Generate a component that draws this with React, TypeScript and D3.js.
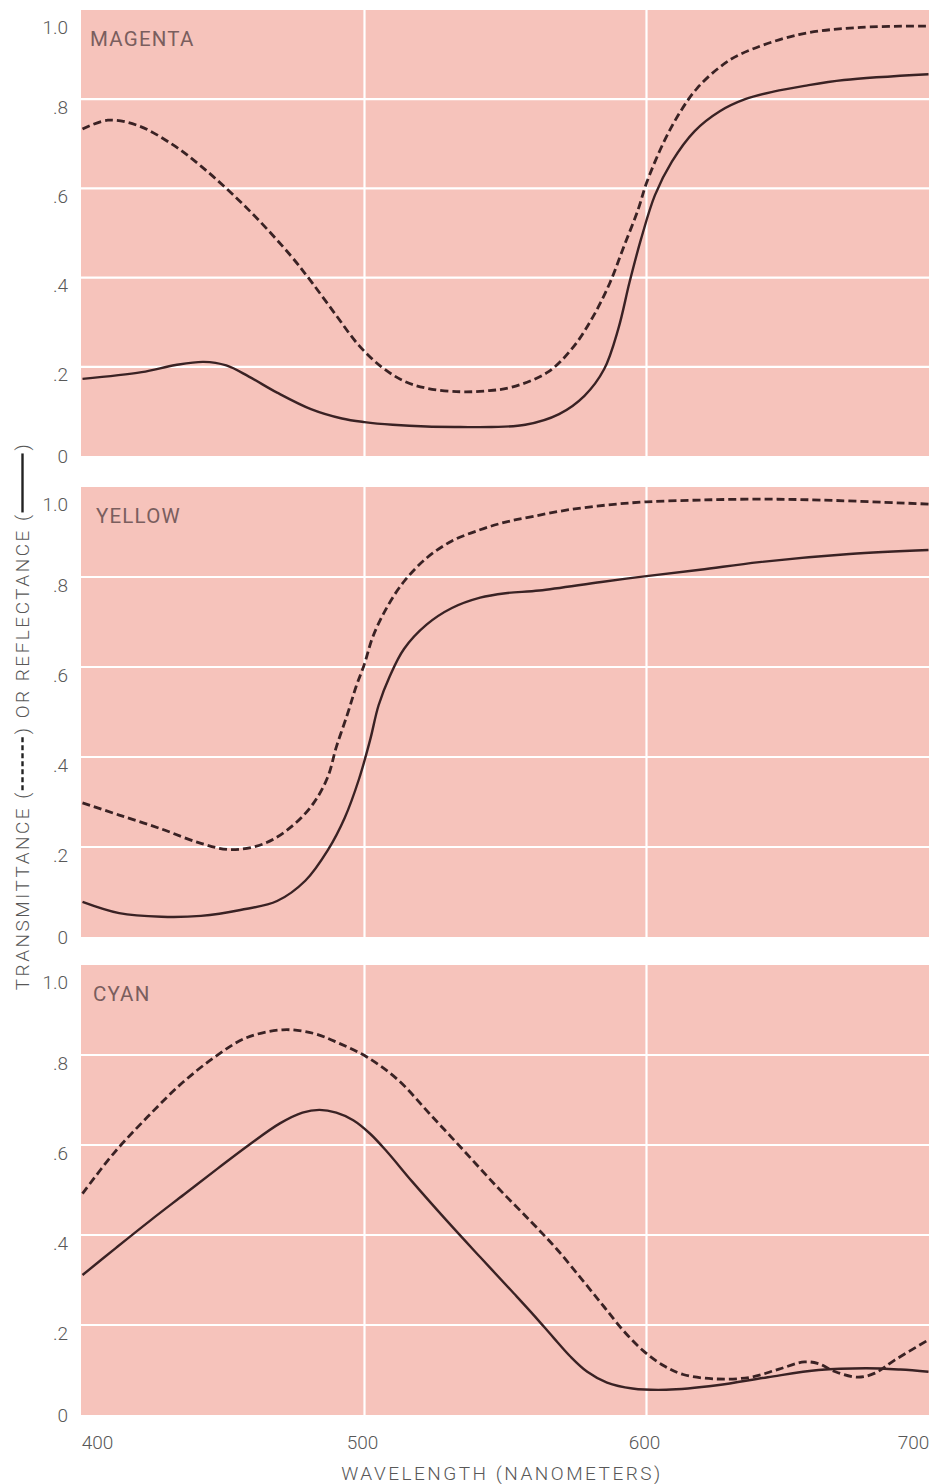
import React, { useEffect, useRef } from 'react';
import * as d3 from 'd3';

type Pt = [number, number];

const wavelengthTicks = [400, 500, 600, 700];
const valueTicks = [0, 0.2, 0.4, 0.6, 0.8, 1.0];
const valueTickLabels = ['0', '.2', '.4', '.6', '.8', '1.0'];
const panelNames = ['MAGENTA', 'YELLOW', 'CYAN'];
const xTitle = 'WAVELENGTH (NANOMETERS)';

const magentaTransmittance: Pt[] = [
  [400, 0.733], [409, 0.753], [420, 0.74], [432, 0.698], [442, 0.65], [452, 0.594],
  [462, 0.532], [474, 0.448], [481, 0.392], [490, 0.315], [498, 0.248], [506, 0.2],
  [514, 0.168], [522, 0.152], [534, 0.144], [543, 0.146], [552, 0.154], [565, 0.188],
  [574, 0.244], [581, 0.312], [587, 0.388], [592, 0.47], [597, 0.552], [600, 0.612],
  [606, 0.702], [612, 0.772], [618, 0.825], [626, 0.872], [633, 0.9], [654, 0.945],
  [676, 0.961], [700, 0.964],
];
const magentaReflectance: Pt[] = [
  [400, 0.173], [421, 0.188], [433, 0.204], [443, 0.211], [451, 0.203], [459, 0.178],
  [469, 0.142], [481, 0.105], [492, 0.084], [500, 0.076], [510, 0.07], [522, 0.066],
  [534, 0.065], [545, 0.065], [557, 0.07], [569, 0.094], [578, 0.135], [585, 0.195],
  [590, 0.285], [594, 0.39], [598, 0.485], [603, 0.585], [609, 0.66], [617, 0.728],
  [626, 0.773], [635, 0.8], [645, 0.817], [656, 0.83], [670, 0.843], [700, 0.856],
];

const yellowTransmittance: Pt[] = [
  [400, 0.298], [413, 0.271], [428, 0.24], [442, 0.208], [453, 0.194], [465, 0.209],
  [475, 0.25], [482, 0.298], [487, 0.356], [490, 0.422], [494, 0.496], [497, 0.556],
  [500, 0.607], [503, 0.668], [508, 0.733], [514, 0.79], [522, 0.842], [531, 0.88],
  [541, 0.905], [550, 0.922], [560, 0.935], [572, 0.949], [586, 0.96], [600, 0.967],
  [619, 0.971], [640, 0.973], [662, 0.971], [700, 0.962],
];
const yellowReflectance: Pt[] = [
  [400, 0.078], [413, 0.053], [428, 0.045], [442, 0.047], [456, 0.06], [469, 0.08],
  [479, 0.125], [487, 0.193], [493, 0.265], [498, 0.35], [502, 0.438], [505, 0.515],
  [509, 0.58], [514, 0.64], [522, 0.694], [531, 0.731], [541, 0.754], [550, 0.764],
  [562, 0.77], [584, 0.789], [600, 0.802], [619, 0.816], [640, 0.833], [672, 0.851],
  [700, 0.86],
];

const cyanTransmittance: Pt[] = [
  [400, 0.492], [411, 0.581], [423, 0.662], [435, 0.736], [447, 0.796], [458, 0.838],
  [471, 0.856], [482, 0.848], [491, 0.826], [501, 0.795], [512, 0.744], [523, 0.67],
  [535, 0.589], [547, 0.507], [559, 0.43], [568, 0.37], [577, 0.302], [585, 0.24],
  [592, 0.186], [599, 0.142], [606, 0.11], [613, 0.09], [625, 0.08], [637, 0.084],
  [647, 0.102], [656, 0.118], [661, 0.114], [667, 0.096], [675, 0.084], [681, 0.093],
  [688, 0.122], [700, 0.167],
];
const cyanReflectance: Pt[] = [
  [400, 0.311], [412, 0.372], [424, 0.432], [436, 0.49], [448, 0.548], [459, 0.6],
  [470, 0.648], [478, 0.672], [484, 0.678], [490, 0.672], [496, 0.655], [502, 0.625],
  [508, 0.585], [517, 0.518], [529, 0.433], [541, 0.351], [553, 0.27], [560, 0.222],
  [567, 0.172], [573, 0.13], [579, 0.096], [586, 0.072], [595, 0.059], [607, 0.056],
  [625, 0.066], [643, 0.084], [661, 0.1], [678, 0.104], [690, 0.101], [700, 0.096],
];

const transmittanceSeries = [magentaTransmittance, yellowTransmittance, cyanTransmittance];
const reflectanceSeries = [magentaReflectance, yellowReflectance, cyanReflectance];

const W = 931;
const H = 1484;
const LEFT = 81;
const RIGHT = 929;
const panelTops = [10, 487, 965];
const panelBottoms = [456, 937, 1415];

const PINK = '#f6c3bb';
const INK = '#3a2224';
const LABEL = '#585858';
const FONT = "'Roboto', 'Liberation Sans', sans-serif";

export default function App() {
  const ref = useRef<SVGSVGElement | null>(null);

  useEffect(() => {
    const svg = d3.select(ref.current);
    svg.selectAll('*').remove();

    const x = d3.scaleLinear().domain([400, 700]).range([82.5, 928.5]);

    panelNames.forEach((name, i) => {
      const y = d3.scaleLinear().domain([0, 1]).range([panelBottoms[i], panelTops[i]]);
      const g = svg.append('g');
      g.append('rect')
        .attr('x', LEFT).attr('y', panelTops[i])
        .attr('width', RIGHT - LEFT).attr('height', panelBottoms[i] - panelTops[i])
        .attr('fill', PINK);
      g.selectAll('line.h').data(valueTicks.filter(v => v > 0 && v < 1)).enter()
        .append('line')
        .attr('x1', LEFT).attr('x2', RIGHT)
        .attr('y1', d => y(d)).attr('y2', d => y(d))
        .attr('stroke', '#ffffff').attr('stroke-width', 2.2);
      g.selectAll('line.v').data(wavelengthTicks.filter(t => t > 400 && t < 700)).enter()
        .append('line')
        .attr('x1', d => x(d)).attr('x2', d => x(d))
        .attr('y1', panelTops[i]).attr('y2', panelBottoms[i])
        .attr('stroke', '#ffffff').attr('stroke-width', 2.2);
      g.selectAll('text.yt').data(valueTicks).enter()
        .append('text')
        .attr('x', 68)
        .attr('y', d => y(d) + (d === 1 ? 17 : d === 0 ? 0 : 8))
        .attr('text-anchor', 'end')
        .attr('dominant-baseline', 'central')
        .attr('font-family', FONT)
        .attr('font-weight', 300)
        .attr('font-size', 19)
        .attr('fill', LABEL)
        .text((d, k) => valueTickLabels[k]);
      g.append('text')
        .attr('x', i === 1 ? 96 : i === 2 ? 93 : 90)
        .attr('y', panelTops[i] + 36)
        .attr('font-family', FONT)
        .attr('font-size', 20.5)
        .attr('letter-spacing', 1.2)
        .attr('fill', '#7a5e5e')
        .text(name);
      const line = d3.line<Pt>().x(d => x(d[0])).y(d => y(d[1])).curve(d3.curveCatmullRom.alpha(0.5));
      g.append('path')
        .attr('d', line(reflectanceSeries[i]) || '')
        .attr('fill', 'none').attr('stroke', INK).attr('stroke-width', 2.4);
      g.append('path')
        .attr('d', line(transmittanceSeries[i]) || '')
        .attr('fill', 'none').attr('stroke', INK).attr('stroke-width', 2.8)
        .attr('stroke-dasharray', '8,4');
    });

    svg.selectAll('text.xt').data(wavelengthTicks).enter()
      .append('text')
      .attr('x', d => x(d) + (d === 400 ? 15 : d === 700 ? -15 : -2))
      .attr('y', 1442)
      .attr('text-anchor', 'middle')
      .attr('dominant-baseline', 'central')
      .attr('font-family', FONT)
      .attr('font-weight', 300)
      .attr('font-size', 19)
      .attr('fill', LABEL)
      .text(d => String(d));

    svg.append('text')
      .attr('x', 502).attr('y', 1473)
      .attr('text-anchor', 'middle')
      .attr('dominant-baseline', 'central')
      .attr('font-family', FONT)
      .attr('font-weight', 300)
      .attr('font-size', 19)
      .attr('letter-spacing', 2.5)
      .attr('fill', LABEL)
      .text(xTitle);

    const yt = svg.append('g').attr('transform', 'translate(29,716) rotate(-90)');
    const pieces = ['TRANSMITTANCE (', ') OR REFLECTANCE (', ')'];
    const gaps = [56, 62];
    const nodes = pieces.map(p => yt.append('text')
      .attr('font-family', FONT).attr('font-weight', 300)
      .attr('font-size', 19).attr('letter-spacing', 2.5)
      .attr('fill', LABEL).text(p));
    const lens = nodes.map(n => (n.node() as SVGTextElement).getComputedTextLength());
    const total = lens.reduce((a, b) => a + b, 0) + gaps[0] + gaps[1];
    let pos = -total / 2;
    nodes.forEach((n, k) => {
      n.attr('x', pos);
      pos += lens[k];
      if (k < gaps.length) {
        yt.append('line')
          .attr('x1', pos).attr('x2', pos + gaps[k] - 3)
          .attr('y1', -6.5).attr('y2', -6.5)
          .attr('stroke', '#222')
          .attr('stroke-width', 2.4)
          .attr('stroke-dasharray', k === 0 ? '5,3' : null);
        pos += gaps[k];
      }
    });
  }, []);

  return (
    <svg ref={ref} width={W} height={H}
      style={{ position: 'absolute', left: 0, top: 0, background: '#ffffff' }} />
  );
}
